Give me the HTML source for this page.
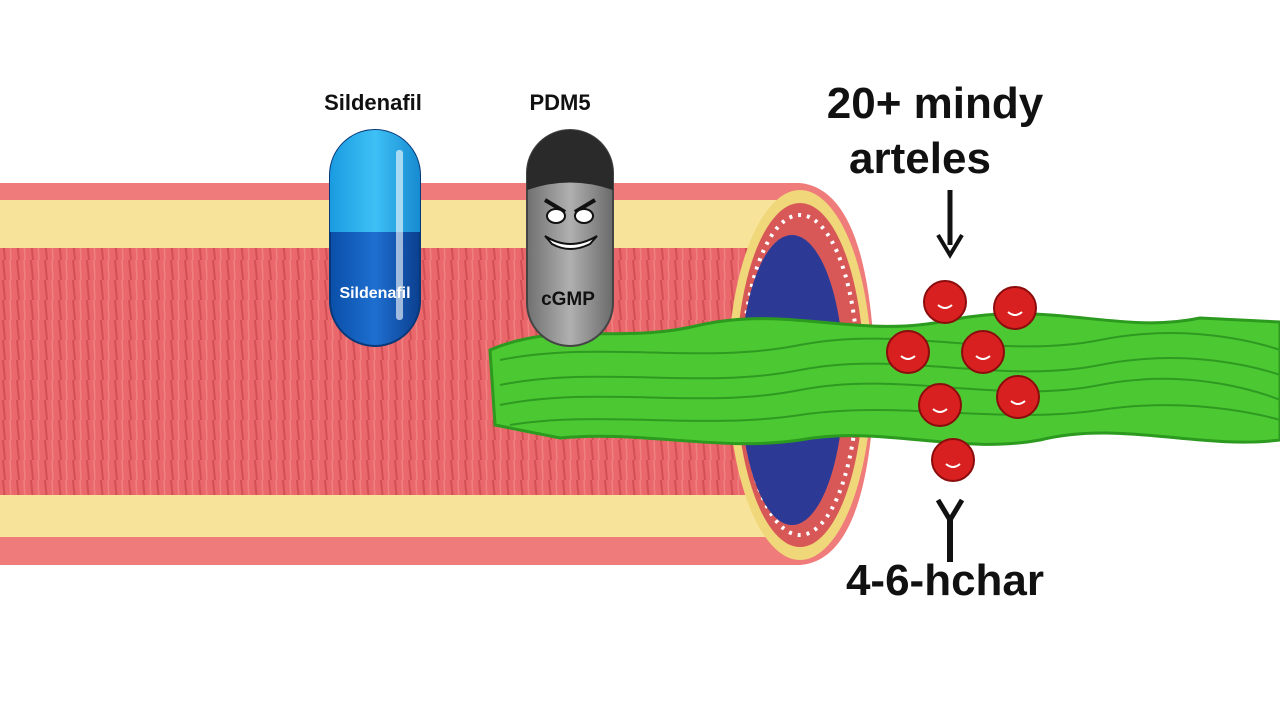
<!DOCTYPE html>
<html><head><meta charset="utf-8"><style>
html,body{margin:0;padding:0;background:#fff;width:1280px;height:720px;overflow:hidden}
text{font-family:"Liberation Sans",Arial,sans-serif;font-weight:bold;fill:#111}
</style></head><body>
<svg width="1280" height="720" viewBox="0 0 1280 720" xmlns="http://www.w3.org/2000/svg">
<defs>
<pattern id="str" width="14" height="20" patternUnits="userSpaceOnUse">
<rect width="14" height="20" fill="#e8696c"/>
<line x1="3" y1="0" x2="5" y2="20" stroke="#c9484d" stroke-width="2"/>
<line x1="10" y1="0" x2="11" y2="20" stroke="#f08a8a" stroke-width="1.5"/>
</pattern>
<linearGradient id="pillb" x1="0" x2="1"><stop offset="0" stop-color="#0a4fa8"/><stop offset=".5" stop-color="#1e6fd0"/><stop offset="1" stop-color="#0b3f8f"/></linearGradient>
<linearGradient id="pillt" x1="0" x2="1"><stop offset="0" stop-color="#1a9be0"/><stop offset=".5" stop-color="#3ec0f5"/><stop offset="1" stop-color="#178bd0"/></linearGradient>
<linearGradient id="grey" x1="0" x2="1"><stop offset="0" stop-color="#707070"/><stop offset=".5" stop-color="#b0b0b0"/><stop offset="1" stop-color="#6a6a6a"/></linearGradient>
</defs>
<!-- vessel -->
<path d="M0 183 L800 183 Q870 190 875 375 Q870 560 800 565 L0 565 Z" fill="#ef7b7b"/>
<rect x="0" y="200" width="780" height="48" fill="#f7e39a"/>
<rect x="0" y="495" width="780" height="42" fill="#f7e39a"/>
<rect x="0" y="248" width="760" height="247" fill="url(#str)"/>
<rect x="0" y="248" width="760" height="247" fill="#e66" opacity=".25"/>
<ellipse cx="800" cy="375" rx="72" ry="185" fill="#f0d77a"/>
<ellipse cx="800" cy="375" rx="64" ry="172" fill="#d85858"/>
<ellipse cx="800" cy="375" rx="58" ry="160" fill="none" stroke="#fff" stroke-width="4" stroke-dasharray="3 6"/>
<ellipse cx="792" cy="380" rx="52" ry="145" fill="#2c3a96"/>
<!-- green band -->
<path d="M490 350 C560 320 620 345 700 325 C790 305 860 340 950 320 C1050 300 1120 335 1200 318 L1280 322 L1280 440 C1200 450 1120 420 1040 440 C960 455 880 425 800 440 C720 452 640 430 560 438 L495 425 Z" fill="#4cc832" stroke="#2b9a1e" stroke-width="3"/>
<g stroke="#2f9a22" stroke-width="2" fill="none">
<path d="M500 360 C600 340 700 365 800 345 S1000 360 1100 340 1280 350 1280 350"/>
<path d="M500 385 C600 365 700 390 800 370 S1000 385 1100 365 1280 375 1280 375"/>
<path d="M500 405 C600 385 700 410 800 390 S1000 405 1100 385 1280 400 1280 400"/>
<path d="M510 425 C600 410 700 430 800 415 S1000 425 1100 410 1280 420 1280 420"/>
</g>
<!-- blue pill -->
<rect x="330" y="130" width="90" height="216" rx="45" fill="url(#pillb)" stroke="#083878" stroke-width="2"/>
<path d="M330 175 A45 45 0 0 1 420 175 L420 232 L330 232 Z" fill="url(#pillt)"/>
<rect x="396" y="150" width="7" height="170" rx="3" fill="#fff" opacity=".6"/>
<text x="375" y="298" text-anchor="middle" font-size="16" style="fill:#fff">Sildenafil</text>
<!-- grey pill -->
<rect x="527" y="130" width="86" height="216" rx="43" fill="url(#grey)" stroke="#444" stroke-width="2"/>
<path d="M527 173 A43 43 0 0 1 613 173 L613 190 Q570 175 527 190 Z" fill="#2a2a2a"/>
<path d="M545 200 L565 212 M595 200 L575 212" stroke="#111" stroke-width="4"/>
<ellipse cx="556" cy="216" rx="9" ry="7" fill="#fff" stroke="#111" stroke-width="2"/>
<ellipse cx="584" cy="216" rx="9" ry="7" fill="#fff" stroke="#111" stroke-width="2"/>
<path d="M545 236 Q570 252 597 236 L590 244 Q570 254 552 244 Z" fill="#fff" stroke="#111" stroke-width="2"/>
<text x="568" y="305" text-anchor="middle" font-size="19">cGMP</text>
<!-- labels -->
<text x="373" y="110" text-anchor="middle" font-size="22">Sildenafil</text>
<text x="560" y="110" text-anchor="middle" font-size="22">PDM5</text>
<text x="935" y="118" text-anchor="middle" font-size="44">20+ mindy</text>
<text x="920" y="173" text-anchor="middle" font-size="44">arteles</text>
<line x1="950" y1="190" x2="950" y2="245" stroke="#111" stroke-width="5"/>
<path d="M938 235 L950 255 L962 235" fill="none" stroke="#111" stroke-width="4"/>
<line x1="950" y1="515" x2="950" y2="562" stroke="#111" stroke-width="6"/>
<path d="M938 500 L950 520 L962 500" fill="none" stroke="#111" stroke-width="5"/>
<text x="945" y="595" text-anchor="middle" font-size="44">4-6-hchar</text>
<!-- red cells -->
<g fill="#d92020" stroke="#8a0c0c" stroke-width="2">
<circle cx="945" cy="302" r="21"/><circle cx="1015" cy="308" r="21"/>
<circle cx="908" cy="352" r="21"/><circle cx="983" cy="352" r="21"/>
<circle cx="940" cy="405" r="21"/><circle cx="1018" cy="397" r="21"/>
<circle cx="953" cy="460" r="21"/>
</g>
<g fill="none" stroke="#fff" stroke-width="2">
<path d="M938 305 q7 6 14 0"/><path d="M1008 312 q7 6 14 0"/><path d="M901 356 q7 6 14 0"/>
<path d="M976 356 q7 6 14 0"/><path d="M933 409 q7 6 14 0"/><path d="M1011 401 q7 6 14 0"/><path d="M946 464 q7 6 14 0"/>
</g>
</svg>
</body></html>
